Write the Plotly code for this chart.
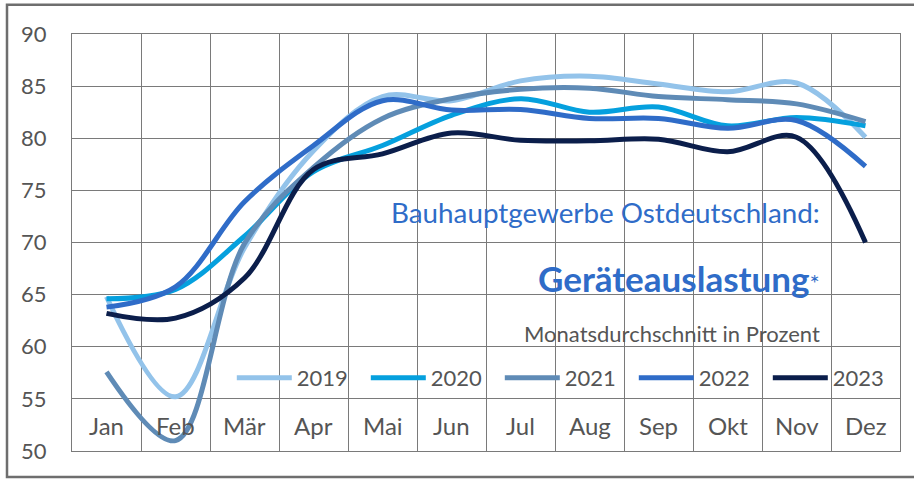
import plotly.graph_objects as go

months = ["Jan", "Feb", "Mär", "Apr", "Mai", "Jun", "Jul", "Aug", "Sep", "Okt", "Nov", "Dez"]
years = ["2019", "2020", "2021", "2022", "2023"]
v2019 = [64.8, 55.2, 69.5, 78.8, 84.0, 83.6, 85.5, 85.95, 85.2, 84.45, 85.3, 80.1]
v2020 = [64.6, 65.5, 70.6, 76.8, 79.3, 82.2, 83.8, 82.5, 83.0, 81.2, 82.0, 81.2]
v2021 = [57.6, 51.0, 69.9, 77.2, 81.9, 83.8, 84.7, 84.8, 84.0, 83.7, 83.3, 81.6]
v2022 = [63.8, 65.75, 73.9, 79.3, 83.6, 82.7, 82.75, 81.9, 81.9, 80.95, 81.7, 77.3]
v2023 = [63.2, 62.75, 66.6, 77.0, 78.5, 80.5, 79.8, 79.75, 79.9, 78.7, 80.1, 70.0]
series = [v2019, v2020, v2021, v2022, v2023]
colors = ["#93c3ea", "#05a0de", "#5f8bb6", "#2f6cc8", "#0b1e4b"]
y_ticks = [50, 55, 60, 65, 70, 75, 80, 85, 90]

FONT = "Lato"
GREY = "#555555"

fig = go.Figure()
for name, vals, col in zip(years, series, colors):
    fig.add_trace(go.Scatter(
        x=months, y=vals, name=name, mode="lines",
        line=dict(color=col, width=5, shape="spline", smoothing=1.0),
    ))

annotations = []
for m in months:
    annotations.append(dict(x=m, y=52.4, xref="x", yref="y", text=m, showarrow=False,
                            font=dict(family=FONT, size=24, color=GREY),
                            xanchor="center", yanchor="middle"))
annotations.append(dict(x=0.906, y=72.9, xref="paper", yref="y",
                        text="Bauhauptgewerbe Ostdeutschland:", showarrow=False,
                        font=dict(family=FONT, size=27.8, color="#2f6cc8"),
                        xanchor="right", yanchor="middle"))
annotations.append(dict(x=0.906, y=66.6, xref="paper", yref="y",
                        text="<b>Geräteauslastung</b><span style='font-size:24px'>*</span>", showarrow=False,
                        font=dict(family=FONT, size=35, color="#2f6cc8"),
                        xanchor="right", yanchor="middle"))
annotations.append(dict(x=0.906, y=61.3, xref="paper", yref="y",
                        text="Monatsdurchschnitt in Prozent", showarrow=False,
                        font=dict(family=FONT, size=22, color=GREY),
                        xanchor="right", yanchor="middle"))

fig.update_layout(
    width=914, height=479,
    margin=dict(l=72, r=14, t=34, b=28, autoexpand=False),
    paper_bgcolor="white", plot_bgcolor="white",
    font=dict(family=FONT, color=GREY),
    showlegend=True,
    legend=dict(orientation="h", x=0.193, y=0.175, xanchor="left", yanchor="middle",
                bgcolor="rgba(0,0,0,0)", font=dict(family=FONT, size=22, color=GREY),
                itemwidth=55, entrywidth=64, entrywidthmode="pixels", tracegroupgap=0),
    xaxis=dict(type="category", categoryorder="array", categoryarray=months,
               range=[-0.5, 11.5], tickson="boundaries", showticklabels=False,
               showgrid=True, gridcolor="#7a7a7a", gridwidth=1, ticks="",
               showline=True, linecolor="#7a7a7a", linewidth=1, mirror=True, zeroline=False),
    yaxis=dict(range=[50, 90], tickvals=y_ticks, ticktext=[str(t) for t in y_ticks],
               showgrid=True, gridcolor="#7a7a7a", gridwidth=1, ticks="",
               ticklabelstandoff=20,
               tickfont=dict(family=FONT, size=22, color=GREY),
               showline=True, linecolor="#7a7a7a", linewidth=1, mirror=True, zeroline=False),
    annotations=annotations,
    shapes=[dict(type="rect", xref="paper", yref="paper", x0=-0.0785, x1=1.05, y0=-0.0625, y1=1.07,
                 line=dict(color="#6e6e6e", width=2.5), fillcolor="rgba(0,0,0,0)", layer="below")],
)

fig.write_html("out.html", config={"displayModeBar": False},
               post_script="document.body.style.margin='0';")
